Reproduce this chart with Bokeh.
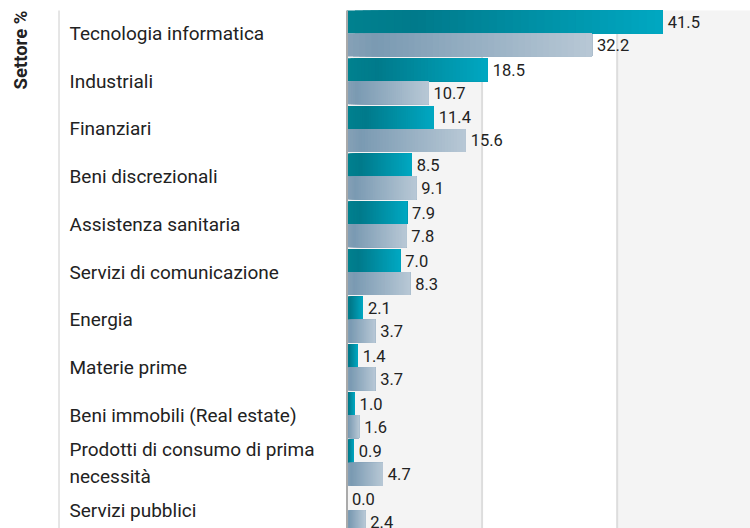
import numpy as np
from bokeh.plotting import figure
from bokeh.models import Range1d
from bokeh.core.properties import value
from bokeh.embed import file_html
from bokeh.resources import INLINE

# ---- data ----
categories = [
    "Tecnologia informatica",
    "Industriali",
    "Finanziari",
    "Beni discrezionali",
    "Assistenza sanitaria",
    "Servizi di comunicazione",
    "Energia",
    "Materie prime",
    "Beni immobili (Real estate)",
    "Prodotti di consumo di prima\nnecessità",
    "Servizi pubblici",
]
series_a = [41.5, 18.5, 11.4, 8.5, 7.9, 7.0, 2.1, 1.4, 1.0, 0.9, 0.0]
series_b = [32.2, 10.7, 15.6, 9.1, 7.8, 8.3, 3.7, 3.7, 1.6, 4.7, 2.4]
axis_title = "Settore %"
band_edges = [0, 17.75, 35.5, 53.25]

# ---- geometry helpers (pixel layout) ----
W, H = 750, 528
X0_PX = 346.5          # position of value 0
KX = 7.61              # px per unit
TOP_PX = 10            # top of first category
PITCH = 47.7           # px per category


def px2x(px):
    return (px - X0_PX) / KX


def py2y(py):
    return (py - TOP_PX) / PITCH


p = figure(width=W, height=H, output_backend="svg", toolbar_location=None,
           x_range=Range1d(px2x(0), px2x(W)), y_range=Range1d(py2y(H), py2y(0)),
           min_border=0, min_border_left=0, min_border_right=0,
           min_border_top=0, min_border_bottom=0)
p.axis.visible = False
p.grid.visible = False
p.outline_line_color = None
p.background_fill_color = "white"
p.border_fill_color = "white"

n = len(categories)
ybot = py2y(H) + 1

# background bands
p.quad(left=[band_edges[0], band_edges[2]], right=[band_edges[1], band_edges[3]],
       top=[0, 0], bottom=[ybot, ybot], fill_color="#f4f4f4", line_color=None)
# gridlines
p.segment(x0=band_edges[1:3], x1=band_edges[1:3], y0=[0, 0], y1=[ybot, ybot],
          line_color="#dddddd", line_width=2)


def hex2rgb(h):
    h = h.lstrip("#")
    return np.array([int(h[i:i + 2], 16) for i in (0, 2, 4)], dtype=float)


def grad(stops, t):
    pos = [s[0] for s in stops]
    cols = [hex2rgb(s[1]) for s in stops]
    for i in range(len(pos) - 1):
        if pos[i] <= t <= pos[i + 1]:
            f = (t - pos[i]) / (pos[i + 1] - pos[i])
            c = cols[i] * (1 - f) + cols[i + 1] * f
            return "#%02x%02x%02x" % tuple(int(round(v)) for v in c)
    c = cols[-1]
    return "#%02x%02x%02x" % tuple(int(round(v)) for v in c)


teal_stops = [(0.0, "#00818f"), (0.22, "#007a8b"), (1.0, "#00a8c2")]
gray_stops = [(0.0, "#86a1b6"), (0.12, "#7a9ab2"), (1.0, "#b8c8d6")]

BAR = 23 / PITCH
NSEG = 40


def draw_bars(vals, offset, stops):
    # slices drawn from each start to the bar end, later ones on top: a seamless gradient
    L, R, T, B, C = [], [], [], [], []
    for j in range(NSEG):
        for i, v in enumerate(vals):
            if v <= 0:
                continue
            L.append(v * j / NSEG)
            R.append(v)
            T.append(i + offset)
            B.append(i + offset + BAR)
            C.append(grad(stops, (j + 0.5) / NSEG))
    p.quad(left=L, right=R, top=T, bottom=B, fill_color=C, line_color=None)


draw_bars(series_a, 0.0, teal_stops)
draw_bars(series_b, BAR, gray_stops)

# axis line at zero
p.segment(x0=[0], x1=[0], y0=[0], y1=[ybot], line_color="#aaaaaa", line_width=2)
# label column separator
p.segment(x0=[px2x(58.5)], x1=[px2x(58.5)], y0=[0], y1=[ybot], line_color="#cccccc", line_width=1)

FONT = value("Roboto")
# value labels
p.text(x=series_a, y=[i + BAR / 2 for i in range(n)], text=["%.1f" % v for v in series_a],
       x_offset=5, text_font=FONT, text_font_size="16.5px", text_color="#222222",
       text_baseline="middle", text_align="left")
p.text(x=series_b, y=[i + BAR * 1.5 for i in range(n)], text=["%.1f" % v for v in series_b],
       x_offset=5, text_font=FONT, text_font_size="16.5px", text_color="#222222",
       text_baseline="middle", text_align="left")

# category labels
p.text(x=[px2x(69)] * n, y=[i + BAR for i in range(n)], text=categories,
       text_font=FONT, text_font_size="19px", text_color="#222222",
       text_baseline="middle", text_align="left", text_line_height=1.15)

# axis title
p.text(x=[px2x(20.5)], y=[py2y(89)], text=[axis_title], angle=np.pi / 2,
       text_font=FONT, text_font_size="18.5px", text_font_style="bold",
       text_color="#222222", text_baseline="middle", text_align="left")

open("out.html", "w").write(file_html(p, INLINE))
